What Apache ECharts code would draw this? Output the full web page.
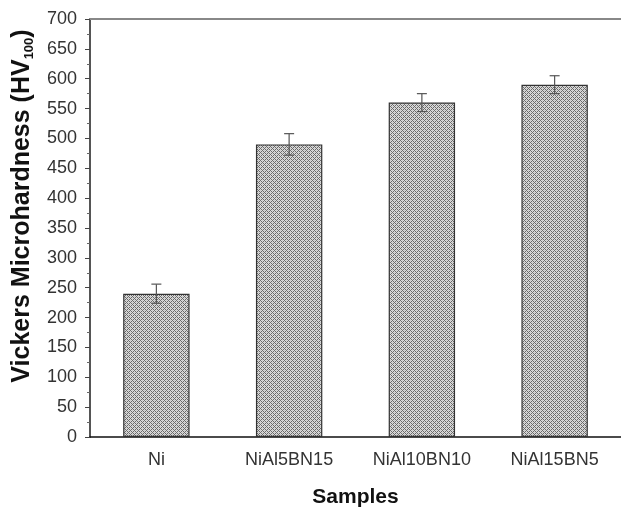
<!DOCTYPE html>
<html><head><meta charset="utf-8">
<script src="https://cdn.jsdelivr.net/npm/echarts@6/dist/echarts.min.js"></script>
<style>html,body{margin:0;padding:0;background:#fff}#c{width:621px;height:513px}</style>
</head><body><div id="c"></div>
<script>
var categories = ['Ni', 'NiAl5BN15', 'NiAl10BN10', 'NiAl15BN5'];
var hardness = [240, 490, 560, 590];
var errors = [16, 18, 15, 15];
var yTicks = {min: 0, max: 700, interval: 50};

function makePattern() {
  var c = document.createElement('canvas');
  c.width = 4; c.height = 4;
  var g = c.getContext('2d');
  for (var x = 0; x < 4; x++) {
    for (var y = 0; y < 4; y++) {
      var dark = ((x - y + 8) % 4 === 0) || ((x + y) % 4 === 0);
      g.fillStyle = dark ? '#6a6a6a' : ((x + y) % 2 === 0 ? '#c4c4c4' : '#dcdcdc');
      g.fillRect(x, y, 1, 1);
    }
  }
  return c;
}

var chart = echarts.init(document.getElementById('c'));
var font = 'Liberation Sans, Arial, sans-serif';
chart.setOption({
  animation: false,
  grid: {left: 90, right: 0, top: 19, bottom: 66},
  xAxis: [{
    type: 'category', data: categories,
    axisLine: {lineStyle: {color: '#111', width: 1.5}},
    axisTick: {alignWithLabel: true, length: 5, lineStyle: {color: '#222'}},
    axisLabel: {color: '#333', fontSize: 18, fontFamily: font, margin: 14},
    name: 'Samples', nameLocation: 'middle', nameGap: 50,
    nameTextStyle: {fontSize: 21, fontWeight: 'bold', color: '#111', fontFamily: font}
  }, {
    type: 'category', data: categories, position: 'bottom',
    axisLine: {show: false}, axisLabel: {show: false},
    axisTick: {length: 3, lineStyle: {color: '#444'}}
  }, {
    type: 'category', data: categories, position: 'top',
    axisLine: {lineStyle: {color: '#888', width: 2}},
    axisTick: {show: false}, axisLabel: {show: false}
  }],
  yAxis: {
    type: 'value', min: yTicks.min, max: yTicks.max, interval: yTicks.interval,
    axisLine: {show: true, lineStyle: {color: '#555', width: 2}},
    axisTick: {show: true, length: 5, lineStyle: {color: '#444'}},
    minorTick: {show: true, splitNumber: 2, length: 3, lineStyle: {color: '#666'}},
    splitLine: {show: false},
    axisLabel: {color: '#333', fontSize: 18, fontFamily: font, margin: 13},
    name: '{a|Vickers Microhardness (HV}{s|100}{a|)}',
    nameLocation: 'middle', nameGap: 50,
    nameTextStyle: {
      padding: [0, 0, 0, 44],
      rich: {
        a: {fontSize: 25, fontWeight: 'bold', color: '#111', fontFamily: font},
        s: {fontSize: 13, fontWeight: 'bold', color: '#111', fontFamily: font, verticalAlign: 'bottom', padding: [14, 0, 0, 0]}
      }
    }
  },
  series: [{
    type: 'bar', data: hardness, barWidth: '50%', xAxisIndex: 0,
    itemStyle: {color: {image: makePattern(), repeat: 'repeat'}, borderColor: '#333', borderWidth: 1.2}
  }, {
    type: 'custom', xAxisIndex: 0,
    data: hardness.map(function (v, i) { return [i, v, errors[i]]; }),
    renderItem: function (params, api) {
      var x = api.value(0), v = api.value(1), e = api.value(2);
      var top = api.coord([x, v + e]);
      var bot = api.coord([x, v - e]);
      var hw = 5;
      var st = {stroke: '#555', lineWidth: 1.2};
      return {type: 'group', children: [
        {type: 'line', shape: {x1: top[0], y1: top[1], x2: bot[0], y2: bot[1]}, style: st},
        {type: 'line', shape: {x1: top[0] - hw, y1: top[1], x2: top[0] + hw, y2: top[1]}, style: st},
        {type: 'line', shape: {x1: bot[0] - hw, y1: bot[1], x2: bot[0] + hw, y2: bot[1]}, style: st}
      ]};
    },
    z: 5
  }]
});
</script></body></html>
